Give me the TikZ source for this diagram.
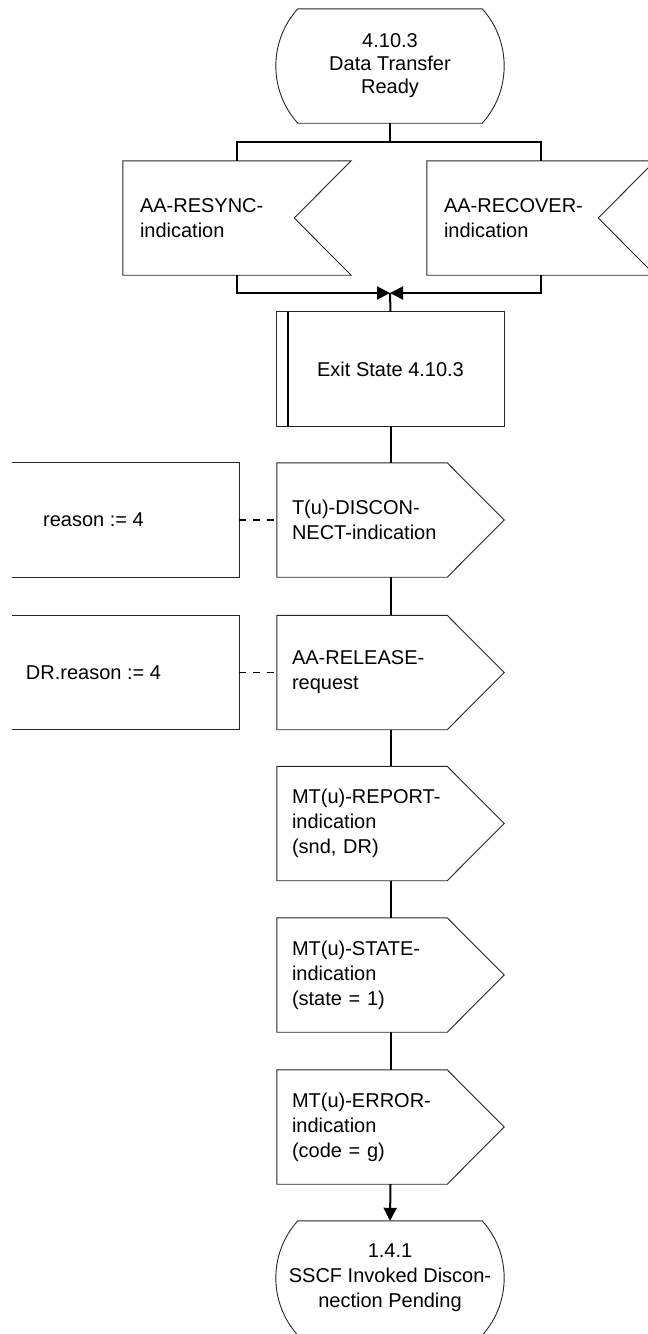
\documentclass[tikz,border=0pt]{standalone}
\usepackage{fontspec}
\setmainfont{Liberation Sans}
\usetikzlibrary{calc,arrows.meta}
\tikzset{
  shp/.style={line width=0.9pt, draw=black!85},
  conn/.style={line width=2pt, draw=black},
  dashline/.style={line width=1.5pt, dash pattern=on 7pt off 7pt},
  tip/.style={-{Triangle[length=13pt,width=13pt]}},
  box/.style={minimum width=227pt, minimum height=114pt, inner sep=0pt, font=\fontsize{20}{25}\selectfont},
  sigtxt/.style={box, text width=197pt, inner xsep=15pt, align=left},
  intxt/.style={box, minimum width=228pt, text width=194pt, inner xsep=17pt, align=left},
  sttxt/.style={box, minimum width=228pt, align=center, font=\fontsize{20}{23}\selectfont},
  tasktxt/.style={box, minimum width=291pt, align=center},
}
\newcommand\sigout[1]{\draw[shp] (#1.north west) -- ([xshift=-57pt]#1.north east) -- (#1.east) -- ([xshift=-57pt]#1.south east) -- (#1.south west) -- cycle;}
\newcommand\sigin[1]{\draw[shp] (#1.north west) -- (#1.north east) -- ([xshift=-57pt]#1.east) -- (#1.south east) -- (#1.south west) -- cycle;}
\newcommand\stateshape[1]{\draw[shp] ($(#1.north west)+(22,0)$) -- ($(#1.north east)+(-22,0)$) .. controls ($(#1.north east)+(7.3,32.3)$) and ($(#1.south east)+(7.3,-32.3)$) .. ($(#1.south east)+(-22,0)$) -- ($(#1.south west)+(22,0)$) .. controls ($(#1.south west)+(-7.3,-32.3)$) and ($(#1.north west)+(-7.3,32.3)$) .. cycle;}
\newcommand\taskopen[1]{\draw[shp] ($(#1.north west)+(64,0)$) -- (#1.north east) -- (#1.south east) -- ($(#1.south west)+(64,0)$);}
\begin{document}
\begin{tikzpicture}[x=1pt,y=-1pt]
\useasboundingbox (0,0) rectangle (648,1334);
% start state
\node[sttxt] (s1) at (390,66) {4.10.3\\Data Transfer\\Ready};
\stateshape{s1}
% inputs
\node[intxt] (in1) at (237,218) {AA-RESYNC-\\indication};
\sigin{in1}
\node[intxt] (in2) at (541,218) {AA-RECOVER-\\indication};
\sigin{in2}
\coordinate (br) at (390,142);
\coordinate (jn) at (390,293);
\draw[conn] (s1.south) -- (br);
\draw[conn] (in1.north) |- (br) -| (in2.north);
\draw[conn,tip] (in1.south) |- (jn);
\draw[conn,tip] (in2.south) |- (jn);
% exit state
\node[box, align=center] (ex) at (390.5,369) {Exit State 4.10.3};
\draw[shp] (ex.north west) rectangle (ex.south east);
\draw[line width=1.8pt] ([xshift=11pt]ex.north west) -- ([xshift=11pt]ex.south west);
\draw[conn] (jn) -- (ex.north);
% outputs
\node[sigtxt] (t1) at (390.5,520) {T(u)-DISCON-\\NECT-indication};
\sigout{t1}
\node[tasktxt] (r1) at (93.5,520) {reason := 4};
\taskopen{r1}
\node[sigtxt] (a1) at (390.5,672.5) {AA-RELEASE-\\request};
\sigout{a1}
\node[tasktxt] (r2) at (93.5,672.5) {DR.reason := 4};
\taskopen{r2}
\node[sigtxt] (m1) at (390.5,823.5) {MT(u)-REPORT-\\indication\\(snd, DR)};
\sigout{m1}
\node[sigtxt] (m2) at (390.5,975) {MT(u)-STATE-\\indication\\(state = 1)};
\sigout{m2}
\node[sigtxt] (m3) at (390.5,1127) {MT(u)-ERROR-\\indication\\(code = g)};
\sigout{m3}
% end state
\node[sttxt, font=\fontsize{20}{25}\selectfont] (e1) at (390,1278) {1.4.1\\SSCF Invoked Discon-\\nection Pending};
\stateshape{e1}
% connectors
\draw[conn] (ex.south) -- (t1.north);
\draw[dashline] (r1.east) -- (t1.west);
\draw[conn] (t1.south) -- (a1.north);
\draw[dashline] (r2.east) -- (a1.west);
\draw[conn] (a1.south) -- (m1.north);
\draw[conn] (m1.south) -- (m2.north);
\draw[conn] (m2.south) -- (m3.north);
\draw[conn,tip] (m3.south) -- (e1.north);
\end{tikzpicture}
\end{document}
